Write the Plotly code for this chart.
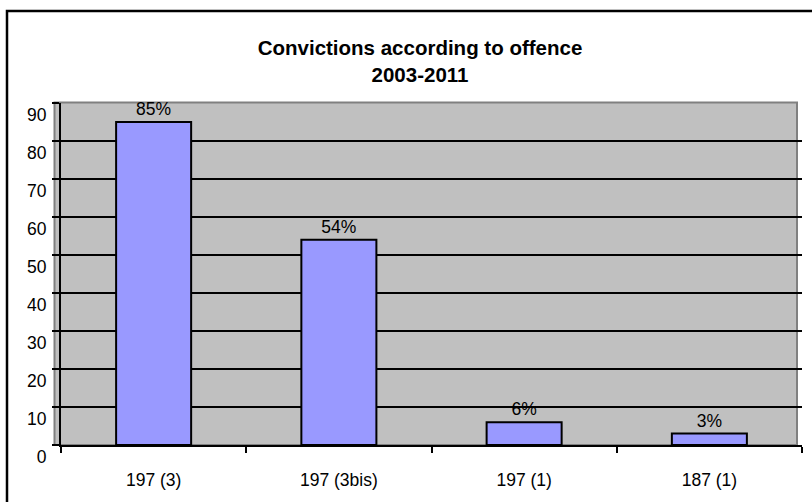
import plotly.graph_objects as go

# Convictions by offence article, 2003-2011
offences = ["197 (3)", "197 (3bis)", "197 (1)", "187 (1)"]
shares = [85, 54, 6, 3]
y_ticks = [0, 10, 20, 30, 40, 50, 60, 70, 80, 90]

W, H = 812, 502
L, R, T, B = 61, 10, 103, 57
plot_w = W - L - R
plot_h = H - T - B


def px_x(p):
    return (p - L) / plot_w


def px_y(p):
    return (H - B - p) / plot_h


font = "Liberation Sans, Arial, sans-serif"

fig = go.Figure(
    go.Bar(
        x=offences,
        y=shares,
        marker=dict(color="#9999FF", line=dict(color="black", width=2)),
        texttemplate="%{y}%",
        textposition="outside",
        textfont=dict(family=font, size=17.5, color="black"),
        cliponaxis=False,
        hoverinfo="skip",
    )
)

shapes = [
    # grey plot-area panel
    dict(type="rect", xref="paper", yref="paper",
         x0=px_x(54.5), x1=px_x(797), y0=0, y1=px_y(102.5),
         fillcolor="#C0C0C0", line=dict(width=0), layer="below"),
    # panel border drawn over the grid
    dict(type="rect", xref="paper", yref="paper",
         x0=px_x(54.5), x1=px_x(797), y0=0, y1=px_y(102.5),
         fillcolor="rgba(0,0,0,0)", line=dict(color="#808080", width=2),
         layer="between"),
    # outer chart frame
    dict(type="rect", xref="paper", yref="paper",
         x0=px_x(7), x1=px_x(830), y0=px_y(520), y1=px_y(11),
         fillcolor="rgba(0,0,0,0)", line=dict(color="black", width=2.5),
         layer="above"),
]

fig.update_layout(
    width=W, height=H, autosize=False,
    margin=dict(l=L, r=R, t=T, b=B, pad=0),
    paper_bgcolor="white", plot_bgcolor="white",
    showlegend=False,
    bargap=0.595,
    font=dict(family=font, size=17.5, color="black"),
    title=dict(
        text="<b>Convictions according to offence<br>2003-2011</b>",
        x=px_x(420), xref="paper", xanchor="center",
        y=1 - 55 / H, yref="container", yanchor="middle",
        font=dict(family=font, size=20.5, color="black"),
    ),
    shapes=shapes,
)

fig.update_xaxes(
    type="category",
    showgrid=False,
    showline=True, linecolor="black", linewidth=2,
    ticks="outside", tickson="boundaries", ticklen=6, tickwidth=2, tickcolor="black",
    ticklabelstandoff=18,
    tickfont=dict(family=font, size=17.5, color="black"),
)

fig.update_yaxes(
    range=[0, 90],
    tickvals=y_ticks,
    showgrid=True, gridcolor="black", gridwidth=2,
    zeroline=False,
    showline=True, linecolor="black", linewidth=2,
    ticks="outside", ticklen=7, tickwidth=2, tickcolor="black",
    ticklabelshift=12,
    ticklabelstandoff=2,
    tickfont=dict(family=font, size=17.5, color="black"),
)

fig.write_html("out.html")
